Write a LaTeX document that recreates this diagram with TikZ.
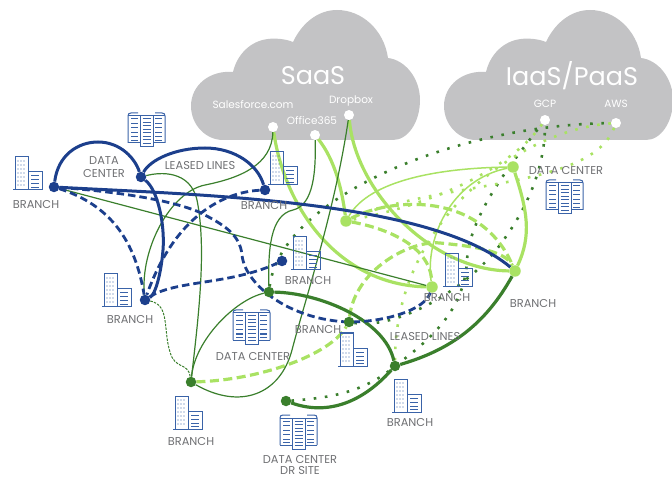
\documentclass[tikz,border=0pt]{standalone}
\usepackage{fontspec}
\setmainfont{Poppins}
\usetikzlibrary{positioning}
\definecolor{navyline}{HTML}{1C3F8C}
\definecolor{iconblue}{HTML}{3A63A8}
\definecolor{darkleaf}{HTML}{3A7F2C}
\definecolor{limeleaf}{HTML}{A9E263}
\definecolor{cloudgrey}{HTML}{C3C3C5}
\definecolor{labelgrey}{HTML}{6F7073}
\pgfdeclarelayer{clouds}
\pgfdeclarelayer{links}
\pgfsetlayers{clouds,links,main}
\tikzset{
  bluehub/.style={circle,fill=navyline,inner sep=0pt,minimum size=10.5pt},
  darkhub/.style={circle,fill=darkleaf,inner sep=0pt,minimum size=10.5pt},
  limehub/.style={circle,fill=limeleaf,inner sep=0pt,minimum size=11.5pt},
  port/.style={circle,fill=white,inner sep=0pt,minimum size=10pt},
  sitelabel/.style={text=labelgrey,font=\fontsize{11.4}{13.5}\selectfont,align=center,inner sep=0pt},
  portlabel/.style={text=white,font=\fontsize{10.5}{12}\selectfont,inner sep=0pt},
  cloudlabel/.style={text=white,font=\fontsize{25.5}{30}\selectfont,inner sep=0pt},
  blueline/.style={draw=navyline,line width=3pt},
  bluedash/.style={draw=navyline,line width=2.8pt,dash pattern=on 7.5pt off 4pt},
  darkthin/.style={draw=darkleaf,line width=1.2pt},
  darkthick/.style={draw=darkleaf,line width=3.2pt},
  darkfine/.style={draw=darkleaf,line width=1pt,dash pattern=on 2.5pt off 1.2pt},
  darkdot/.style={draw=darkleaf,line width=2.6pt,dash pattern=on 2.6pt off 8.6pt},
  limethin/.style={draw=limeleaf,line width=1.5pt},
  limethick/.style={draw=limeleaf,line width=3.2pt},
  limedash/.style={draw=limeleaf,line width=3.2pt,dash pattern=on 9pt off 4.5pt},
  limedot/.style={draw=limeleaf,line width=2.6pt,dash pattern=on 2.6pt off 8.6pt},
  iconline/.style={draw=iconblue,line width=1pt},
  skycloud/.pic={
    \fill[cloudgrey] (223,140) -- (393,140) .. controls (408,140) and (420,122) .. (420,100)
      .. controls (420,78) and (405,60) .. (388,58) .. controls (384,30) and (362,10) .. (337,10)
      .. controls (318,10) and (302,23) .. (293,42) .. controls (286,39) and (275,38) .. (268,39)
      .. controls (250,41) and (237,55) .. (233,72) .. controls (210,70) and (191,85) .. (191,106)
      .. controls (191,125) and (206,140) .. (223,140) -- cycle;
  },
  officeicon/.pic={
    \draw[iconline] (0,0) -- (30,0);
    \draw[iconline] (2,0) rectangle (15,-33);
    \draw[iconline] (15,-18) rectangle (29,0);
    \foreach \col in {5,8,11}
      \foreach \row in {-29,-25,-21,-17,-13,-9,-5}
        \fill[iconblue] (\col,\row) circle (.6);
    \foreach \row in {-14,-10,-6,-2.5}
      \draw[iconline] (18,\row) -- (26,\row);
  },
  serversicon/.pic={
    \draw[iconline] (0,30) -- (0,3) .. controls (0,1) and (1,0) .. (3,0) -- (10,0);
    \draw[iconline] (37,30) -- (37,3) .. controls (37,1) and (36,0) .. (34,0) -- (27,0);
    \draw[iconline] (0,30) -- (12,30) (25,30) -- (37,30) (0,3) -- (12,3) (25,3) -- (37,3);
    \draw[iconline] (12,3) rectangle (25,34);
    \foreach \row in {6,10.5,15,19.5,24,27.5}{
      \draw[iconline] (3,\row) -- (10,\row);
      \draw[iconline] (27,\row) -- (34,\row);
    }
    \foreach \row in {6,9.5,13,16.5,20,23.5,27,30.5}
      \draw[iconline] (14.5,\row) -- (22.5,\row);
  }
}
\begin{document}
\begin{tikzpicture}[x=1pt,y=-1pt]
  \useasboundingbox (0,0) rectangle (672,478);

  % Clouds
  \begin{pgfonlayer}{clouds}
    \pic at (0,0) {skycloud};
    \pic at (253,0) {skycloud};
  \end{pgfonlayer}
  \node[cloudlabel] (saas) at (313,76) {SaaS};
  \node[cloudlabel] (iaas) at (572,76) {IaaS/PaaS};

  % Ports
  \node[port] (salesforce) at (273,127) {};
  \node[port] (office) at (315,135) {};
  \node[port] (dropbox) at (349,115) {};
  \node[port] (gcp) at (545,120) {};
  \node[port] (aws) at (616,123) {};
  \node[portlabel] (salesforcetext) at (253,105) {Salesforce.com};
  \node[portlabel] (officetext) at (312,121) {Office365};
  \node[portlabel] (dropboxtext) at (351,101) {Dropbox};
  \node[portlabel] (gcptext) at (545,104) {GCP};
  \node[portlabel] (awstext) at (616,104) {AWS};

  % Hubs
  \node[bluehub] (branchA) at (54,187) {};
  \node[bluehub] (hubDC) at (141,177) {};
  \node[bluehub] (branchB) at (265,190) {};
  \node[bluehub] (branchC) at (145,300) {};
  \node[bluehub] (branchD) at (282,261) {};
  \node[darkhub] (darkA) at (269,292) {};
  \node[darkhub] (darkB) at (349,322) {};
  \node[darkhub] (darkC) at (395,366) {};
  \node[darkhub] (darkD) at (191,382) {};
  \node[darkhub] (darkE) at (286,401) {};
  \node[limehub] (limeA) at (346,221) {};
  \node[limehub] (limeB) at (513,167) {};
  \node[limehub] (limeC) at (515,271) {};
  \node[limehub] (limeD) at (432,287) {};

  % Labels
  \node[sitelabel] (labA) at (36,205) {BRANCH};
  \node[sitelabel] (labB) at (104,167) {DATA\\CENTER};
  \node[sitelabel] (labC) at (200,166) {LEASED LINES};
  \node[sitelabel] (labD) at (264,206) {BRANCH};
  \node[sitelabel] (labE) at (308,281) {BRANCH};
  \node[sitelabel] (labF) at (130,320) {BRANCH};
  \node[sitelabel] (labG) at (253,357) {DATA CENTER};
  \node[sitelabel] (labH) at (318,330) {BRANCH};
  \node[sitelabel] (labI) at (425,337) {LEASED LINES};
  \node[sitelabel] (labJ) at (191,442) {BRANCH};
  \node[sitelabel] (labK) at (410,423) {BRANCH};
  \node[sitelabel,font=\fontsize{11.4}{11.5}\selectfont] (labL) at (300,465) {DATA CENTER\\DR SITE};
  \node[sitelabel] (labM) at (447,298) {BRANCH};
  \node[sitelabel] (labN) at (533,304) {BRANCH};
  \node[sitelabel] (labO) at (566,171) {DATA CENTER};

  % Icons
  \foreach \px/\py in {13/190,102/307,268/185,291/270,338/366,173/429,392/412,443/287}
    \pic at (\px,\py) {officeicon};
  \foreach \px/\py in {128/113,233/310,280/415,546/180}
    \pic at (\px,\py) {serversicon};

  % Links
  \begin{pgfonlayer}{links}
    % dotted
    \draw[darkdot] (darkA) .. controls (280,200) and (450,125) .. (aws);
    \draw[darkdot] (darkE) .. controls (330,398) and (365,392) .. (395,366)
      .. controls (430,340) and (465,310) .. (467,260)
      .. controls (470,215) and (510,165) .. (gcp);
    \draw[darkdot] (darkB) .. controls (395,330) and (470,290) .. (505,238)
      .. controls (525,210) and (545,170) .. (gcp);
    \draw[limedot] (aws) .. controls (590,190) and (440,180) .. (limeA);
    \draw[limedot] (aws) .. controls (520,130) and (395,220) .. (darkC);
    \draw[limedot] (gcp) .. controls (510,170) and (430,205) .. (limeA);

    % light green
    \draw[limethin] (limeA) .. controls (370,180) and (440,168) .. (limeB);
    \draw[limethin] (limeD) .. controls (425,240) and (450,180) .. (limeB);
    \draw[limethick] (salesforce) .. controls (285,210) and (340,285) .. (limeD);
    \draw[limethick] (office) .. controls (335,160) and (342,190) .. (limeA);
    \draw[limethick] (dropbox) .. controls (355,190) and (430,270) .. (limeC);
    \draw[limethick] (limeB) .. controls (527,210) and (532,235) .. (limeC);
    \draw[limedash] (limeA) .. controls (390,198) and (480,190) .. (limeC);
    \draw[limedash] (limeA) .. controls (385,228) and (430,245) .. (limeD);
    \draw[limedash] (darkB) .. controls (355,270) and (410,240) .. (440,243)
      .. controls (470,246) and (505,250) .. (limeC);
    \draw[limedash] (darkD) .. controls (260,380) and (330,355) .. (darkB);

    % dark green
    \draw[darkthin] (salesforce) .. controls (272,165) and (240,178) .. (205,185)
      .. controls (170,192) and (140,250) .. (branchC);
    \draw[darkthin] (office) .. controls (316,170) and (314,205) .. (293,210)
      .. controls (270,215) and (268,250) .. (darkA);
    \draw[darkthin] (dropbox) .. controls (335,210) and (305,300) .. (292,350)
      .. controls (280,395) and (240,410) .. (darkD);
    \draw[darkthin] (branchA) -- (limeD);
    \draw[darkthin] (hubDC) .. controls (160,172) and (190,170) .. (197,200)
      .. controls (207,250) and (198,320) .. (darkD);
    \draw[darkthin] (darkD) .. controls (195,340) and (235,300) .. (darkA);
    \draw[darkfine] (branchC) .. controls (170,305) and (163,330) .. (170,352)
      .. controls (175,370) and (188,362) .. (darkD);
    \draw[darkthick] (darkA) .. controls (320,293) and (385,320) .. (darkC);
    \draw[darkthick] (darkE) .. controls (325,415) and (360,405) .. (darkC);
    \draw[darkthick] (darkC) .. controls (450,350) and (485,325) .. (limeC);

    % blue
    \draw[blueline] (branchA) .. controls (58,155) and (78,142) .. (98,142)
      .. controls (120,142) and (135,158) .. (hubDC);
    \draw[blueline] (hubDC) .. controls (150,160) and (175,148) .. (205,148)
      .. controls (235,148) and (258,165) .. (branchB);
    \draw[blueline] (hubDC) .. controls (158,190) and (165,225) .. (163,250)
      .. controls (161,275) and (155,295) .. (branchC);
    \draw[blueline] (branchA) .. controls (200,195) and (430,200) .. (limeC);
    \draw[bluedash] (branchA) .. controls (110,205) and (135,240) .. (branchC);
    \draw[bluedash] (branchA) .. controls (120,192) and (170,200) .. (199,212)
      .. controls (225,225) and (240,235) .. (242,255)
      .. controls (245,285) and (290,320) .. (349,322)
      .. controls (385,322) and (425,310) .. (limeD);
    \draw[bluedash] (branchB) .. controls (225,192) and (175,215) .. (branchC);
    \draw[bluedash] (branchC) .. controls (175,280) and (230,285) .. (branchD);
  \end{pgfonlayer}
\end{tikzpicture}
\end{document}
